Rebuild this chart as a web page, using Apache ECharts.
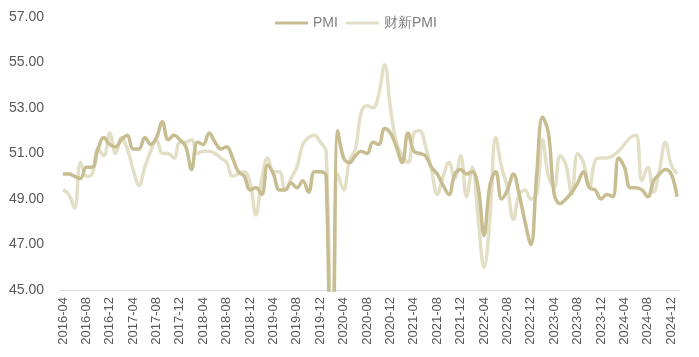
<!DOCTYPE html>
<html><head><meta charset="utf-8">
<script src="https://cdn.jsdelivr.net/npm/echarts@6/dist/echarts.min.js"></script>
<style>html,body{margin:0;padding:0;background:#fff}#c{width:699px;height:357px}</style>
</head><body><div id="c"></div>
<script>
const startYear = 2016, startMonth = 4, monthCount = 106;
const categories = [];
for (let i = 0; i < monthCount; i++) {
  const m = startMonth - 1 + i;
  const y = startYear + Math.floor(m / 12);
  const mm = (m % 12) + 1;
  categories.push(y + '-' + (mm < 10 ? '0' + mm : mm));
}
const pmi = [
  50.1,50.1,50.0,49.9,50.4,50.4,51.2,51.7,51.4,
  51.3,51.6,51.8,51.2,51.2,51.7,51.4,51.7,52.4,51.6,51.8,51.6,
  51.3,50.3,51.5,51.4,51.9,51.5,51.2,51.3,50.8,50.2,50.0,49.4,
  49.5,49.2,50.5,50.1,49.4,49.4,49.7,49.5,49.8,49.3,50.2,50.2,
  50.0,35.7,52.0,50.8,50.6,50.9,51.1,51.0,51.5,51.4,52.1,51.9,
  51.3,50.6,51.9,51.1,51.0,50.9,50.4,50.1,49.6,49.2,50.1,50.3,
  50.1,50.2,49.5,47.4,49.6,50.2,49.0,49.4,50.1,49.2,48.0,47.0,
  50.1,52.6,51.9,49.2,48.8,49.0,49.3,49.7,50.2,49.5,49.4,49.0,
  49.2,49.1,50.8,50.4,49.5,49.5,49.4,49.1,49.8,50.1,50.3,50.1,
  49.1
];
const caixin = [
  49.4,49.2,48.6,50.6,50.0,50.1,51.2,50.9,51.9,
  51.0,51.7,51.2,50.3,49.6,50.4,51.1,51.6,51.0,51.0,50.8,51.5,
  51.5,51.6,51.0,51.1,51.1,51.0,50.8,50.6,50.0,50.1,50.2,49.7,
  48.3,49.9,50.8,50.2,50.2,49.4,49.9,50.4,51.4,51.7,51.8,51.5,
  51.1,40.3,50.1,49.4,50.7,51.2,52.8,53.1,53.0,53.6,54.9,53.0,
  51.5,50.9,50.6,51.9,52.0,51.3,50.3,49.2,50.0,50.6,49.9,50.9,
  49.1,50.4,48.1,46.0,48.1,51.7,50.4,49.5,48.1,49.2,49.4,49.0,
  49.2,51.6,50.0,49.5,50.9,50.5,49.2,51.0,50.6,49.5,50.7,50.8,
  50.8,50.9,51.1,51.4,51.7,51.8,49.8,50.4,49.3,50.3,51.5,50.5,
  50.1
];
const chart = echarts.init(document.getElementById('c'));
chart.setOption({
  animation: false,
  legend: {
    top: 11, left: 270, itemWidth: 33, itemHeight: 3, itemGap: 8,
    icon: 'rect',
    textStyle: { color: '#7f7f7f', fontSize: 14, fontFamily: 'Liberation Sans' },
    data: ['PMI', '财新PMI']
  },
  grid: { left: 60, right: 19, top: 17, bottom: 67 },
  xAxis: {
    type: 'category', data: categories, boundaryGap: true,
    axisLine: { lineStyle: { color: '#d9d9d9' } },
    axisTick: { interval: 3, length: 5, lineStyle: { color: '#d9d9d9' } },
    axisLabel: { interval: 3, rotate: 90, margin: 7, color: '#595959', fontSize: 13, fontFamily: 'Liberation Sans' }
  },
  yAxis: {
    type: 'value', min: 45, max: 57, interval: 2,
    splitLine: { show: false }, axisLine: { show: false }, axisTick: { show: false },
    axisLabel: { margin: 16, color: '#595959', fontSize: 14, fontFamily: 'Liberation Sans', formatter: v => v.toFixed(2) }
  },
  series: [
    { name: '财新PMI', type: 'line', data: caixin, smooth: 0.4, symbol: 'none', clip: true, z: 2,
      lineStyle: { color: '#e3dfc6', width: 3.5 }, itemStyle: { color: '#e3dfc6' } },
    { name: 'PMI', type: 'line', data: pmi, smooth: 0.4, symbol: 'none', clip: true, z: 3,
      lineStyle: { color: '#c8bd90', width: 3.5 }, itemStyle: { color: '#c8bd90' } }
  ]
});
</script></body></html>
